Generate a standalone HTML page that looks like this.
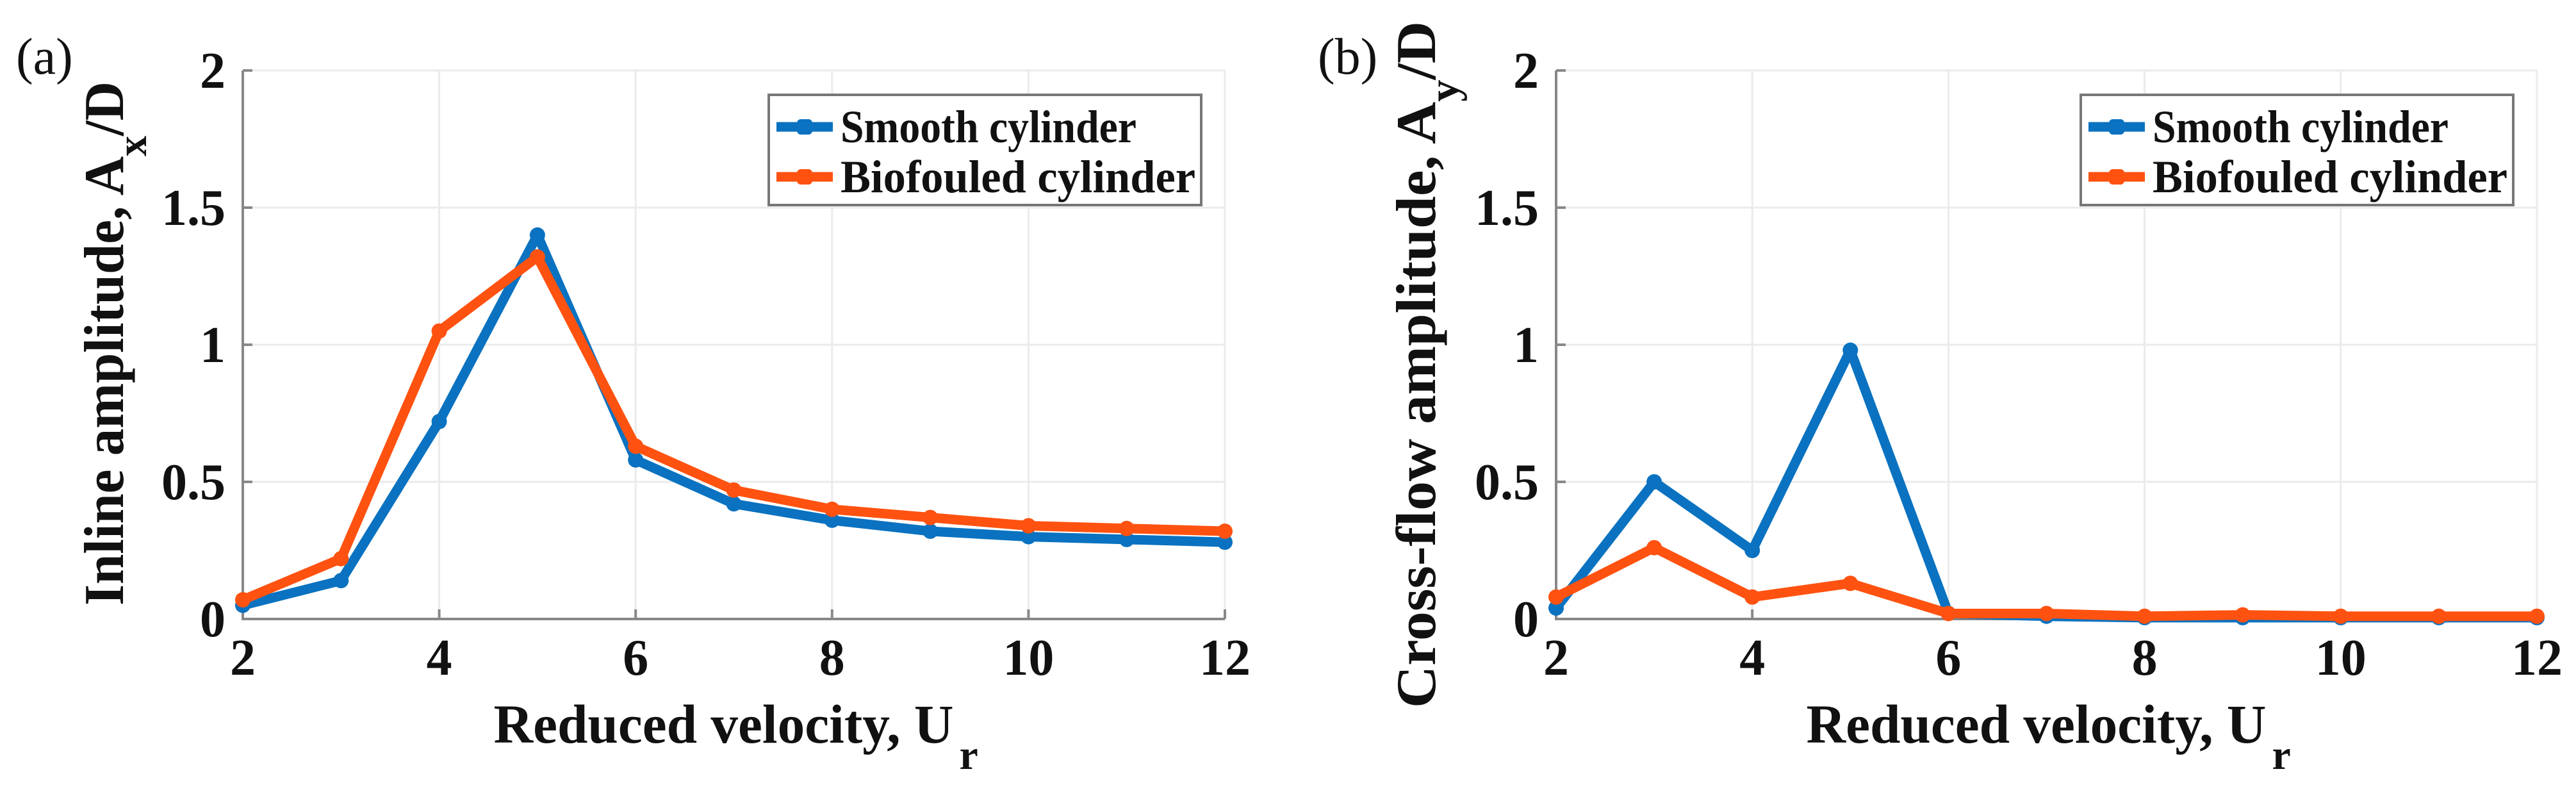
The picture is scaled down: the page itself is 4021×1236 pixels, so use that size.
<!DOCTYPE html>
<html><head><meta charset="utf-8"><style>
html,body{margin:0;padding:0;background:#fff;}
svg{display:block;}
text{font-family:"Liberation Serif",serif;fill:#111;}
</style></head><body>
<svg id="fig" width="4021" height="1236" viewBox="0 0 4021 1236" xmlns="http://www.w3.org/2000/svg"></svg>
<script>
const velocities = [2,3,4,5,6,7,8,9,10,11,12];
const inlineSmooth = [0.05,0.14,0.72,1.40,0.58,0.42,0.36,0.32,0.30,0.29,0.28];
const inlineBio = [0.07,0.22,1.05,1.32,0.63,0.47,0.40,0.37,0.34,0.33,0.32];
const crossSmooth = [0.04,0.50,0.25,0.98,0.02,0.01,0.005,0.005,0.005,0.005,0.005];
const crossBio = [0.08,0.26,0.08,0.13,0.02,0.02,0.01,0.015,0.01,0.01,0.01];
const xTicks = [2,4,6,8,10,12];
const yTicks = [0,0.5,1,1.5,2];
const yTickLabels = ["0","0.5","1","1.5","2"];
const seriesNames = ["Smooth cylinder","Biofouled cylinder"];

const NS="http://www.w3.org/2000/svg";
const svg=document.getElementById('fig');
const BLUE="#0a72c0", ORANGE="#ff5210";
function mk(tag,attrs,parent){const e=document.createElementNS(NS,tag);for(const k in attrs)e.setAttribute(k,attrs[k]);(parent||svg).appendChild(e);return e;}

function panel(id,left,right,top,bottom,smooth,bio,letter,titleMain,titleSub,titleLen,titleCY,titleX,labelX){
  const g=mk('g',{});
  
  
  const xs=v=>left+(v-2)/10*(right-left);
  const ys=v=>bottom-(v/2)*(bottom-top);
  xTicks.forEach(t=>{const l=mk('line',{x1:xs(t),x2:xs(t),y1:top,y2:bottom,stroke:'#ebebeb','stroke-width':3},g);
    });
  yTicks.forEach(t=>{const l=mk('line',{x1:left,x2:right,y1:ys(t),y2:ys(t),stroke:'#ebebeb','stroke-width':3},g);
    });
  const ax=mk('path',{d:`M${left},${top} V${bottom} H${right}`,fill:'none',stroke:'#888','stroke-width':4},g);
  
  xTicks.forEach(t=>{mk('line',{x1:xs(t),x2:xs(t),y1:bottom,y2:bottom-15,stroke:'#888','stroke-width':4},g);
    const tx=mk('text',{x:xs(t),y:bottom+87,'font-size':80,'font-weight':'bold','text-anchor':'middle'},g);
    tx.textContent=t;});
  yTicks.forEach((t,i)=>{mk('line',{x1:left,x2:left+15,y1:ys(t),y2:ys(t),stroke:'#888','stroke-width':4},g);
    const tx=mk('text',{x:left-27,y:ys(t)+27,'font-size':80,'font-weight':'bold','text-anchor':'end'},g);
    tx.textContent=yTickLabels[i];});
  [[smooth,BLUE,'smooth'],[bio,ORANGE,'biofouled']].forEach(([arr,col,nm])=>{
    const pts=velocities.map((v,i)=>xs(v)+','+ys(arr[i])).join(' ');
    const pl=mk('polyline',{points:pts,fill:'none',stroke:col,'stroke-width':15,'stroke-linejoin':'round'},g);
    
    velocities.forEach((v,i)=>{const c=mk('circle',{cx:xs(v),cy:ys(arr[i]),r:12,fill:col},g);
      });
  });
  const lg=mk('g',{},g);
  
  const lx=right-712, lw=675;
  mk('rect',{x:lx,y:top+38,width:lw,height:172,fill:'#fff',stroke:'#777','stroke-width':4},lg);
  [[BLUE,0],[ORANGE,1]].forEach(([col,i])=>{
    const cy=top+88+i*78;
    const e=mk('g',{},lg);
    
    
    mk('line',{x1:lx+12,x2:lx+100,y1:cy,y2:cy,stroke:col,'stroke-width':15},e);
    mk('rect',{x:lx+44,y:cy-12,width:24,height:24,rx:6,fill:col},e);
    const t=mk('text',{x:lx+112,y:cy+24,'font-size':72,'font-weight':'bold',textLength:i?554:462,lengthAdjust:'spacingAndGlyphs'},e);
    t.textContent=seriesNames[i];
  });
  const cx=left+(right-left)/2;
  const xt=mk('text',{x:cx-375,y:1159,'font-size':86,'font-weight':'bold'},g);
  
  const xa=mk('tspan',{textLength:718,lengthAdjust:'spacingAndGlyphs'},xt);xa.textContent='Reduced velocity, U';
  const xb=mk('tspan',{x:cx+352,y:1200,'font-size':66},xt);xb.textContent='r';
  const yt=mk('text',{transform:`translate(${titleX},${titleCY}) rotate(-90)`,'font-size':88,'font-weight':'bold','text-anchor':'middle',textLength:titleLen,lengthAdjust:'spacingAndGlyphs'},g);
  
  const ya=mk('tspan',{},yt);ya.textContent=titleMain;
  const yb=mk('tspan',{dy:36,'font-size':66},yt);yb.textContent=titleSub;
  const yc=mk('tspan',{dy:-36},yt);yc.textContent='/D';
  const pl=mk('text',{x:labelX,y:115,'font-size':80},g);
  pl.textContent=letter;
}
panel('panel-a-inline',379,1912,110,966,inlineSmooth,inlineBio,'(a)','Inline amplitude, A','x',818,536,192,25);
panel('panel-b-crossflow',2429,3960,110,966,crossSmooth,crossBio,'(b)','Cross-flow amplitude, A','y',1072,569,2240,2057);
</script>
</body></html>
